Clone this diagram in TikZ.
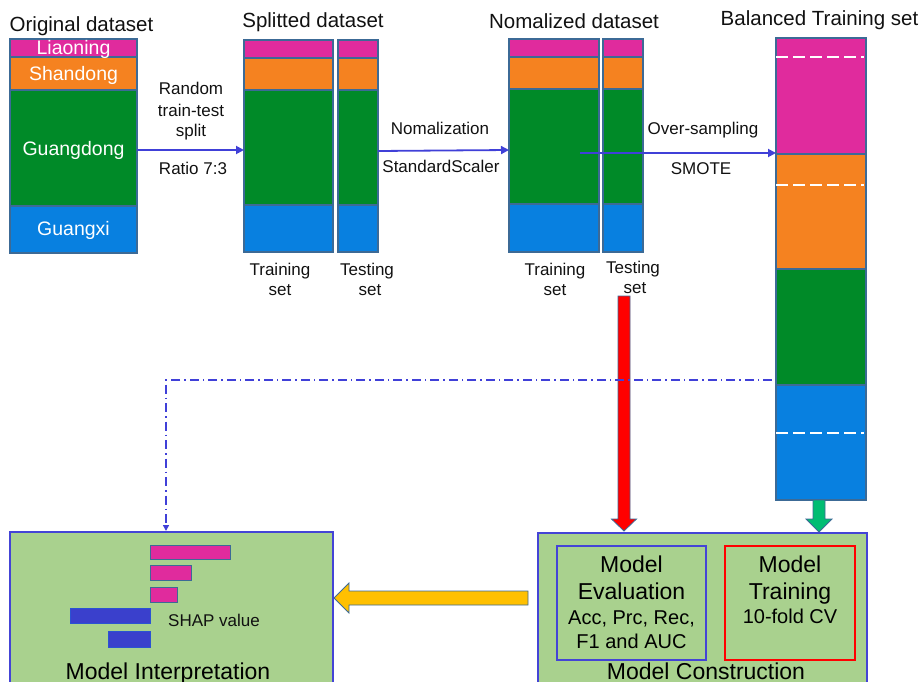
\documentclass[tikz,border=0pt]{standalone}
\usepackage{fontspec}
\setmainfont{Liberation Sans}
\usetikzlibrary{arrows.meta,calc}
\definecolor{cpink}{HTML}{E02B9D}
\definecolor{corange}{HTML}{F58220}
\definecolor{cgreen}{HTML}{008A28}
\definecolor{cblue}{HTML}{0880E0}
\definecolor{cborder}{HTML}{3C6A96}
\definecolor{lgreen}{HTML}{A9D18E}
\definecolor{fblue}{HTML}{4444D6}
\definecolor{lineblue}{HTML}{4040D8}
\definecolor{shapblue}{HTML}{3A40CC}
\definecolor{cyellow}{HTML}{FFC000}
\definecolor{cteal}{HTML}{00BD72}
\definecolor{txt}{HTML}{111111}
\newcommand\fs[1]{\fontsize{#1}{#1}\selectfont}
\newcommand\rnode[6]{\node[#1,minimum width={(#5-#3)*1pt},minimum height={(#6-#4)*1pt}] (#2) at ({(#3+#5)/2},{(#4+#6)/2}) {};}
\begin{document}
\begin{tikzpicture}[x=1pt,y=-1pt,
 seg/.style={draw=cborder,line width=2.6pt,inner sep=0pt,outer sep=0pt,rectangle},
 frame/.style={draw=fblue,line width=2.5pt,fill=lgreen,inner sep=0pt,outer sep=0pt,rectangle},
 title/.style={anchor=base,text=txt,font=\fs{20.5},inner sep=0pt},
 lbl/.style={anchor=base,text=txt,font=\fs{17},inner sep=0pt},
 seglbl/.style={anchor=base,text=white,font=\fs{19.5},inner sep=0pt},
 big/.style={anchor=base,text=black,font=\fs{23},inner sep=0pt},
 mid/.style={anchor=base,text=black,font=\fs{20},inner sep=0pt},
 flow/.style={draw=lineblue,line width=1.8pt,-{Triangle[length=8pt,width=8pt]}},
 ddash/.style={draw=lineblue,line width=1.6pt,dash pattern=on 9pt off 4pt on 1.5pt off 4pt,-{Triangle[length=6pt,width=6pt]}},
 wdash/.style={draw=white,line width=2.5pt,dash pattern=on 12pt off 5pt},
 shp/.style={draw=cborder,line width=0.8pt,inner sep=0pt,outer sep=0pt,rectangle},
 blk/.style={draw=cborder,line width=0.8pt}
]
\useasboundingbox (0,0) rectangle (919,682);
% ---------- Original dataset
\node[title] (t1) at (81.5,32) {Original dataset};
\rnode{seg,fill=cpink}{o1}{10}{39}{137}{57}
\rnode{seg,fill=corange}{o2}{10}{57}{137}{90}
\rnode{seg,fill=cgreen}{o3}{10}{90}{137}{206}
\rnode{seg,fill=cblue}{o4}{10}{206}{137}{253}
\node[seglbl] (l1) at (73.5,55) {Liaoning};
\node[seglbl] (l2) at (73.5,81) {Shandong};
\node[seglbl] (l3) at (73.5,156) {Guangdong};
\node[seglbl] (l4) at (73.5,236) {Guangxi};
% ---------- Splitted dataset
\node[title] (t2) at (313,28) {Splitted dataset};
\rnode{seg,fill=cpink}{s1}{244}{40}{333}{58}
\rnode{seg,fill=corange}{s2}{244}{58}{333}{90}
\rnode{seg,fill=cgreen}{s3}{244}{90}{333}{205}
\rnode{seg,fill=cblue}{s4}{244}{205}{333}{252}
\rnode{seg,fill=cpink}{u1}{338}{40}{378}{58}
\rnode{seg,fill=corange}{u2}{338}{58}{378}{90}
\rnode{seg,fill=cgreen}{u3}{338}{90}{378}{205}
\rnode{seg,fill=cblue}{u4}{338}{205}{378}{252}
\node[lbl] (st1) at (280,275) {Training};
\node[lbl] (st2) at (280,295) {set};
\node[lbl] (su1) at (367,275) {Testing};
\node[lbl] (su2) at (370,295) {set};
% ---------- Normalized dataset
\node[title] (t3) at (574,29) {Nomalized dataset};
\rnode{seg,fill=cpink}{n1}{509}{39}{599}{57}
\rnode{seg,fill=corange}{n2}{509}{57}{599}{89}
\rnode{seg,fill=cgreen}{n3}{509}{89}{599}{204}
\rnode{seg,fill=cblue}{n4}{509}{204}{599}{252}
\rnode{seg,fill=cpink}{m1}{603}{39}{643}{57}
\rnode{seg,fill=corange}{m2}{603}{57}{643}{89}
\rnode{seg,fill=cgreen}{m3}{603}{89}{643}{204}
\rnode{seg,fill=cblue}{m4}{603}{204}{643}{252}
\node[lbl] (nt1) at (555,275) {Training};
\node[lbl] (nt2) at (555,295) {set};
\node[lbl] (mt1) at (633,273) {Testing};
\node[lbl] (mt2) at (635,293) {set};
% ---------- Balanced training set
\node[title] (t4) at (819.5,26) {Balanced Training set};
\rnode{seg,fill=cpink}{b1}{776}{38}{866}{154}
\rnode{seg,fill=corange}{b2}{776}{154}{866}{269}
\rnode{seg,fill=cgreen}{b3}{776}{269}{866}{385}
\rnode{seg,fill=cblue}{b4}{776}{385}{866}{500}
\draw[wdash] (776,57) -- (864,57);
\draw[wdash] (776,185) -- (864,185);
\draw[wdash] (776,433) -- (864,433);
% ---------- arrows between datasets
\node[lbl] (a1) at (191,95) {Random};
\node[lbl] (a2) at (191,117) {train-test};
\node[lbl] (a3) at (191,137) {split};
\node[lbl] (a4) at (193,175) {Ratio 7:3};
\draw[flow] ([yshift=-2pt]o3.east) -- ([yshift=-2.5pt]s3.west);
\node[lbl] (a5) at (440,135) {Nomalization};
\node[lbl] (a6) at (441,173) {StandardScaler};
\draw[flow] ([yshift=-3.5pt]u3.east) -- ([yshift=-3.5pt]n3.west);
\node[lbl] (a7) at (703,135) {Over-sampling};
\node[lbl] (a8) at (701,175) {SMOTE};
\coordinate (os) at (580,153);
\coordinate (oe) at (776,153);
\draw[flow] (os) -- (oe);
% ---------- bottom boxes
\rnode{frame}{interp}{10}{532}{333}{720}
\rnode{frame}{constr}{538}{533}{867}{720}
\rnode{draw=fblue,line width=2.5pt,inner sep=0pt,outer sep=0pt,rectangle}{eval}{557}{546}{706}{660}
\rnode{draw=red,line width=2.5pt,inner sep=0pt,outer sep=0pt,rectangle}{train}{725}{546}{855}{660}
\node[big] (e1) at (631.5,572) {Model};
\node[big] (e2) at (631.5,599) {Evaluation};
\node[mid] (e3) at (631.5,624) {Acc, Prc, Rec,};
\node[mid] (e4) at (631.5,648) {F1 and AUC};
\node[big] (r1) at (790,572) {Model};
\node[big] (r2) at (790,599) {Training};
\node[mid] (r3) at (790,623) {10-fold CV};
\node[big] (cl) at (706,679) {Model Construction};
\node[big] (il) at (168,679) {Model Interpretation};
% SHAP bars
\rnode{shp,fill=cpink}{p1}{150}{545}{230}{559}
\rnode{shp,fill=cpink}{p2}{150}{565}{191}{580}
\rnode{shp,fill=cpink}{p3}{150}{587}{177}{602}
\rnode{shp,fill=shapblue,draw=shapblue!70!cblue}{q1}{70}{608}{150}{623}
\rnode{shp,fill=shapblue,draw=shapblue!70!cblue}{q2}{108}{631}{150}{647}
\node[lbl,anchor=base west,font=\fs{17}] (sv) at (168,626) {SHAP value};
% ---------- block arrows
\draw[blk,fill=red] (618,296) -- (630,296) -- (630,519) -- (636.5,519) -- (624,531) -- (611.5,519) -- (618,519) -- cycle;
\draw[blk,fill=cteal] (813,500) -- (825,500) -- (825,519) -- (832,519) -- (819,532) -- (806,519) -- (813,519) -- cycle;
\draw[blk,fill=cyellow] (528,591) -- (349,591) -- (349,583) -- (334,598) -- (349,613) -- (349,605) -- (528,605) -- cycle;
% ---------- dash-dot connector
\coordinate (ds) at (772,380);
\coordinate (de) at (166,531);
\draw[ddash] (ds) -| (de);
\end{tikzpicture}
\end{document}
